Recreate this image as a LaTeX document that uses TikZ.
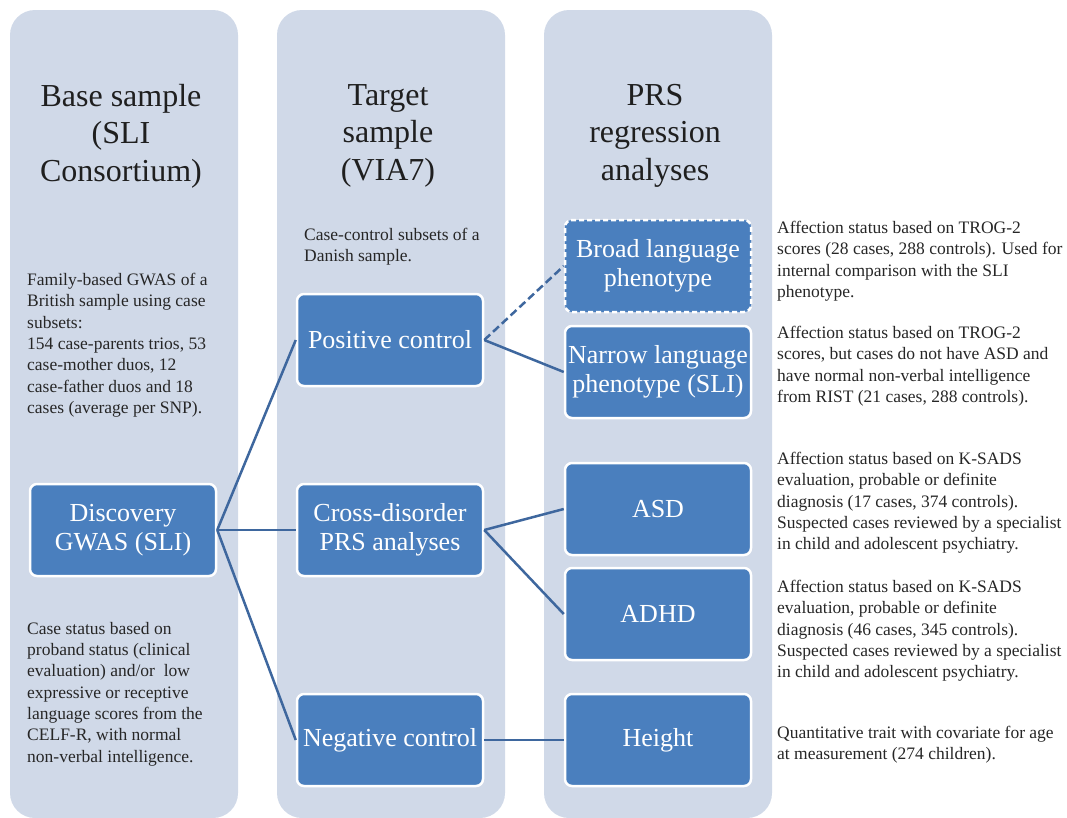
\documentclass[tikz,border=0pt]{standalone}
\usepackage{fontspec}
\setmainfont{Liberation Serif}
\usepackage{tikz}
\usepackage{xcolor}
\usetikzlibrary{positioning}
\definecolor{panelblue}{RGB}{208,217,232}
\definecolor{boxblue}{RGB}{74,127,190}
\definecolor{linkblue}{RGB}{62,103,158}

\begin{document}
\begin{tikzpicture}[x=1pt, y=-1pt,
	box/.style={rectangle, rounded corners=7pt, fill=boxblue, draw=white, line width=2.5pt, minimum width=186pt, minimum height=92pt, inner sep=0.5pt, text=white, align=center, font=\fontsize{26}{29}\selectfont},
	title/.style={anchor=north, inner sep=0pt, align=center, text=black!88, font=\fontsize{32}{37.5}\selectfont},
	note/.style={anchor=north west, inner sep=0pt, align=left, text=black!85, font=\fontsize{17.5}{21.3}\selectfont},
	link/.style={draw=linkblue, line width=2.5pt}]
	\useasboundingbox (0,0) rectangle (1067,817);
	\foreach \x in {10, 277, 544} {
		\fill[panelblue, rounded corners=25pt] (\x, 10) rectangle (\x+228, 818);
	}
	
	\node[title] (basetitle) at (121, 84) {Base sample\\(SLI\\Consortium)};
	\node[title] (targettitle) at (388, 84) {Target\\sample\\(VIA7)};
	\node[title] (prstitle) at (655, 84) {PRS\\regression\\analyses};
	
	\node[box] (disc) at (123, 530) {Discovery\\GWAS (SLI)};
	\node[box] (pos) at (390, 340) {Positive control};
	\node[box] (cross) at (390, 530) {Cross-disorder\\PRS analyses};
	\node[box] (neg) at (390, 740) {Negative control};
	\node[box, dash pattern=on 5pt off 3pt] (broad) at (658, 266) {Broad language\\phenotype};
	\node[box] (narrow) at (658, 372) {Narrow language\\phenotype (SLI)};
	\node[box] (asd) at (658, 509) {ASD};
	\node[box] (adhd) at (658, 614) {ADHD};
	\node[box] (height) at (658, 740) {Height};
	
	\draw[link] (disc.east) -- (pos.west);
	\draw[link] (disc.east) -- (cross.west);
	\draw[link] (disc.east) -- (neg.west);
	\draw[link, dash pattern=on 8pt off 4pt] (pos.east) -- (broad.west);
	\draw[link] (pos.east) -- (narrow.west);
	\draw[link] (cross.east) -- (asd.west);
	\draw[link] (cross.east) -- (adhd.west);
	\draw[link] (neg.east) -- (height.west);
	
	\node[note] (basenote) at (27, 273) {Family-based GWAS of a\\British sample using case\\subsets:\\154 case-parents trios, 53\\case-mother duos, 12\\case-father duos and 18\\cases (average per SNP).};
	\node[note] (casenote) at (27, 622) {Case status based on\\proband status (clinical\\evaluation) and/or\ \ low\\expressive or receptive\\language scores from the\\CELF-R, with normal\\non-verbal intelligence.};
	\node[note] (targetnote) at (304, 228) {Case-control subsets of a\\Danish sample.};
	
	\node[note] (broadnote) at (777, 221) {Affection status based on TROG-2\\scores (28 cases, 288 controls). Used for\\internal comparison with the SLI\\phenotype.};
	\node[note] (narrownote) at (777, 326) {Affection status based on TROG-2\\scores, but cases do not have ASD and\\have normal non-verbal intelligence\\from RIST (21 cases, 288 controls).};
	\node[note] (asdnote) at (777, 452) {Affection status based on K-SADS\\evaluation, probable or definite\\diagnosis (17 cases, 374 controls).\\Suspected cases reviewed by a specialist\\in child and adolescent psychiatry.};
	\node[note] (adhdnote) at (777, 580) {Affection status based on K-SADS\\evaluation, probable or definite\\diagnosis (46 cases, 345 controls).\\Suspected cases reviewed by a specialist\\in child and adolescent psychiatry.};
	\node[note] (heightnote) at (777, 726) {Quantitative trait with covariate for age\\at measurement (274 children).};
\end{tikzpicture}
\end{document}
